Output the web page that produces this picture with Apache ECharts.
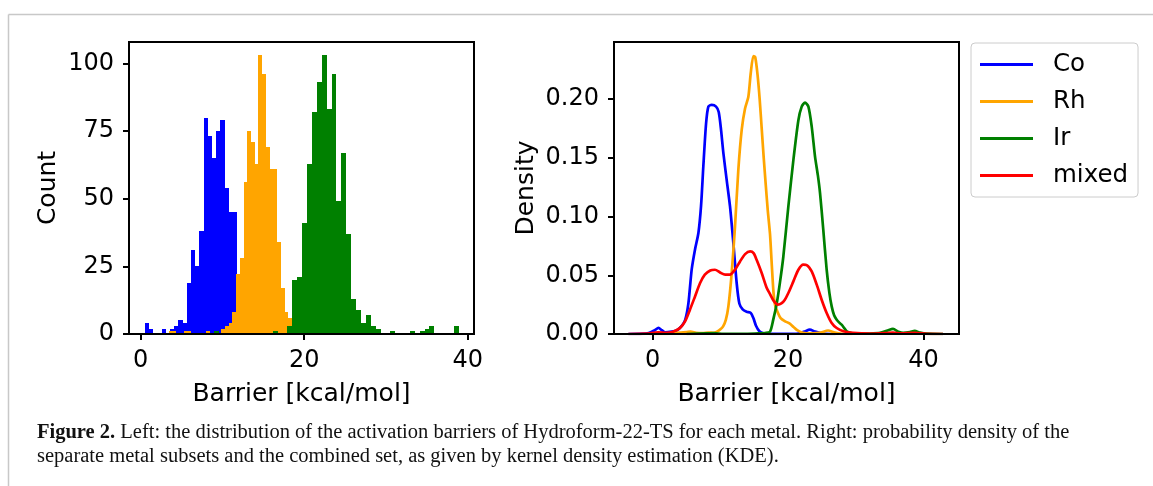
<!DOCTYPE html>
<html>
<head>
<meta charset="utf-8">
<script src="https://cdn.jsdelivr.net/npm/echarts@6/dist/echarts.min.js"></script>
<style>
  html, body { margin: 0; padding: 0; background: #ffffff; }
  #chart { width: 1153px; height: 486px; }
</style>
</head>
<body>
<div id="chart"></div>
<script>
// ---- Histogram data: left edge of first bin, bin width, counts per bin ----
const coStart = 0.526, coWidth = 0.512;
const coCounts = [4, 2, 0, 0, 2, 0, 2, 3, 5, 4, 19, 31, 25, 38, 80, 73, 65, 75, 79, 54, 45, 45,
                  18, 10, 7, 6, 6, 5, 3, 2, 0, 0, 0, 0, 0, 0, 0, 0, 0, 0, 0, 0, 0, 0, 1];
const rhStart = 3.46, rhWidth = 0.456;
const rhCounts = [1, 1, 0, 0, 1, 1, 0, 0, 0, 0, 1, 0, 0, 0, 2, 3, 4, 8, 22, 28, 56, 75, 71, 63,
                  103, 96, 69, 61, 61, 34, 17, 8, 6, 4, 4, 3, 2, 2, 1, 0, 0, 0, 0, 0, 0, 0, 0, 0, 0, 1];
const irStart = 8.97, irWidth = 0.599;
const irCounts = [1, 0, 0, 0, 0, 0, 0, 0, 0, 0, 0, 0, 1, 0, 0, 3, 20, 21, 41, 63, 82, 93, 103, 83,
                  96, 49, 67, 37, 13, 9, 4, 7, 3, 2, 0, 0, 1, 0, 0, 0, 1, 0, 1, 2, 3, 0, 0, 0, 0, 3];

// ---- Kernel density curves (barrier, density) ----
const coKdeX = [-3.6, -2.0, -0.6, 0.3, 0.85, 1.35, 1.85, 2.8, 3.5, 4.3, 4.8, 5.27, 5.76, 6.25, 6.75,
                7.14, 7.48, 7.88, 8.22, 8.71, 9.36, 9.75, 10.09, 10.44, 10.93, 11.42, 11.92, 12.41,
                12.8, 13.29, 13.88, 14.48, 14.87, 15.26, 15.76, 16.35, 17.5, 19.5, 21.5, 22.4, 23.2,
                24.0, 25.0, 27.0];
const coKdeY = [0, 0.0001, 0.0008, 0.0032, 0.0052, 0.0032, 0.0014, 0.002, 0.003, 0.007, 0.012, 0.026,
                0.055, 0.072, 0.086, 0.109, 0.143, 0.179, 0.1936, 0.195, 0.1936, 0.189, 0.174, 0.154,
                0.131, 0.1086, 0.077, 0.043, 0.026, 0.021, 0.019, 0.018, 0.0136, 0.007, 0.0023, 0.0006,
                0.0001, 0.0001, 0.0004, 0.002, 0.0037, 0.002, 0.0004, 0];
const rhKdeX = [-0.5, 1.5, 3.0, 4.0, 5.0, 5.6, 6.4, 7.4, 8.2, 9.0, 9.5, 10.0, 10.4, 10.8, 11.18, 11.67,
                12.16, 12.65, 13.15, 13.64, 14.13, 14.48, 14.87, 15.15, 15.5, 15.8, 16.1, 16.4, 16.7,
                17.0, 17.33, 17.6, 17.85, 18.1, 18.5, 18.9, 19.5, 20.2, 20.8, 21.4, 22.2, 23.5, 24.8,
                25.9, 26.9, 28.0, 29.5];
const rhKdeY = [0, 0.0001, 0.0006, 0.0012, 0.0016, 0.002, 0.001, 0.0007, 0.0012, 0.001, 0.002, 0.004,
                0.0065, 0.012, 0.0235, 0.052, 0.0916, 0.14, 0.174, 0.192, 0.202, 0.222, 0.2367, 0.2355,
                0.22, 0.2, 0.175, 0.15, 0.127, 0.105, 0.085, 0.058, 0.035, 0.024, 0.018, 0.0135, 0.011,
                0.009, 0.006, 0.003, 0.001, 0.0005, 0.0012, 0.003, 0.0012, 0.0002, 0];
const irKdeX = [5.0, 8.0, 9.0, 10.5, 14.0, 16.0, 16.6, 17.33, 17.8, 18.32, 18.8, 19.3, 20.04, 20.78,
                21.52, 22.01, 22.5, 23.0, 23.49, 23.98, 24.4, 24.72, 25.2, 25.7, 26.1, 26.44, 26.8,
                27.18, 27.6, 27.91, 28.3, 28.66, 29.3, 30.1, 32.0, 33.6, 34.7, 35.5, 36.3, 37.0, 38.0,
                38.7, 39.5, 40.5, 42.9];
const irKdeY = [0, 0.0005, 0.0007, 0.0002, 0.0002, 0.0006, 0.0008, 0.002, 0.012, 0.026, 0.044, 0.066,
                0.1086, 0.148, 0.182, 0.1936, 0.197, 0.1936, 0.1766, 0.151, 0.135, 0.12, 0.0887, 0.0547,
                0.035, 0.0235, 0.016, 0.0122, 0.0095, 0.0079, 0.005, 0.0023, 0.0008, 0.0003, 0.0004,
                0.001, 0.003, 0.0043, 0.002, 0.001, 0.0016, 0.0026, 0.0012, 0.0003, 0];
const mixKdeX = [-3.6, -1.0, 0.8, 2.0, 3.0, 4.0, 4.8, 5.5, 6.25, 7.0, 7.7, 8.5, 9.2, 9.95, 10.7, 11.4,
                 12.15, 12.9, 13.65, 14.4, 14.9, 15.35, 16.1, 16.85, 17.33, 17.9, 18.5, 19.0, 19.5,
                 20.04, 20.78, 21.52, 22.25, 22.75, 23.49, 24.23, 24.97, 25.7, 26.44, 27.18, 28.17,
                 29.6, 32.1, 34.5, 35.5, 36.6, 38.7, 40.5, 42.9];
const mixKdeY = [0, 0.0003, 0.0015, 0.001, 0.002, 0.005, 0.011, 0.0207, 0.032, 0.0434, 0.0505, 0.0541,
                 0.0547, 0.0524, 0.0505, 0.0505, 0.0547, 0.0618, 0.068, 0.0703, 0.0689, 0.0632, 0.0519,
                 0.0391, 0.034, 0.028, 0.025, 0.026, 0.029, 0.0349, 0.0448, 0.0547, 0.059, 0.0587,
                 0.0533, 0.042, 0.029, 0.0179, 0.0094, 0.0051, 0.0023, 0.0009, 0.0003, 0.0008, 0.0012,
                 0.0005, 0.0009, 0.0001, 0];

// ---- Tick labels and text ----
const barrierTicks = [0, 20, 40];
const countTicks = [0, 25, 50, 75, 100];
const densityTicks = [0, 0.05, 0.10, 0.15, 0.20];
const metalNames = ['Co', 'Rh', 'Ir', 'mixed'];
const xTitle = 'Barrier [kcal/mol]';
const captionLine1 = 'Left: the distribution of the activation barriers of Hydroform-22-TS for each metal. Right: probability density of the';
const captionLine2 = 'separate metal subsets and the combined set, as given by kernel density estimation (KDE).';

const COLORS = { Co: '#0000ff', Rh: '#ffa500', Ir: '#008000', mixed: '#ff0000' };
const FONT = 'DejaVu Sans';
const TICK_SIZE = 24;
const LABEL_SIZE = 25;
const CAPTION_FONT = 'Liberation Serif';
const CAPTION_SIZE = 20.5;

// Histogram bars: one filled rectangle per bin, edges snapped to whole pixels
function histSeries(name, color, start, width, counts) {
  return {
    name: name, type: 'custom', xAxisIndex: 0, yAxisIndex: 0,
    itemStyle: { color: color },
    encode: { x: [0, 1], y: 2 },
    data: counts.map((c, i) => [start + i * width, start + (i + 1) * width, c]),
    renderItem: function (params, api) {
      const a = api.coord([api.value(0), 0]);
      const b = api.coord([api.value(1), api.value(2)]);
      const x0 = Math.round(a[0]), x1 = Math.round(b[0]);
      const y0 = Math.round(a[1]), y1 = Math.round(b[1]);
      return {
        type: 'rect',
        shape: { x: x0, y: y1, width: x1 - x0, height: y0 - y1 },
        style: { fill: color }
      };
    }
  };
}

function kdeSeries(name, xs, ys) {
  return {
    name: name, type: 'line', xAxisIndex: 1, yAxisIndex: 1,
    data: xs.map((x, i) => [x, ys[i]]),
    showSymbol: false, symbol: 'none', smooth: 0.25,
    color: COLORS[name],
    lineStyle: { color: COLORS[name], width: 2.7 },
    emphasis: { disabled: true }
  };
}

function xAxisCfg(gridIndex, min, max) {
  return {
    type: 'value', gridIndex: gridIndex, min: min, max: max, z: 10,
    name: xTitle, nameLocation: 'middle', nameGap: 48, nameMoveOverlap: false,
    nameTextStyle: { fontFamily: FONT, fontSize: LABEL_SIZE, color: '#000' },
    axisLine: { show: true, onZero: false, lineStyle: { color: '#000', width: 2 } },
    axisTick: { show: true, customValues: barrierTicks, length: 6, lineStyle: { color: '#000', width: 2 } },
    axisLabel: { customValues: barrierTicks, margin: 15, fontFamily: FONT, fontSize: TICK_SIZE, color: '#000' },
    splitLine: { show: false }
  };
}

function yAxisCfg(gridIndex, min, max, ticks, title, gap, fmt) {
  return {
    type: 'value', gridIndex: gridIndex, min: min, max: max, z: 10,
    name: title, nameLocation: 'middle', nameGap: gap, nameMoveOverlap: false,
    nameTextStyle: { fontFamily: FONT, fontSize: LABEL_SIZE, color: '#000' },
    axisLine: { show: true, onZero: false, lineStyle: { color: '#000', width: 2 } },
    axisTick: { show: true, customValues: ticks, length: 6, lineStyle: { color: '#000', width: 2 } },
    axisLabel: { customValues: ticks, margin: 15, fontFamily: FONT, fontSize: TICK_SIZE, color: '#000', formatter: fmt },
    splitLine: { show: false }
  };
}

const chart = echarts.init(document.getElementById('chart'), null, { renderer: 'canvas' });

const option = {
  animation: false,
  backgroundColor: '#ffffff',
  grid: [
    { left: 129, top: 42, width: 345, height: 292, show: true, borderColor: '#000', borderWidth: 2,
      backgroundColor: 'transparent', outerBoundsMode: 'none' },
    { left: 614, top: 42, width: 345, height: 292, show: true, borderColor: '#000', borderWidth: 2,
      backgroundColor: 'transparent', outerBoundsMode: 'none' }
  ],
  xAxis: [
    xAxisCfg(0, -1.43, 40.77),
    xAxisCfg(1, -5.72, 45.25)
  ],
  yAxis: [
    yAxisCfg(0, 0, 107.9, countTicks, 'Count', 68, v => String(v)),
    yAxisCfg(1, 0, 0.2486, densityTicks, 'Density', 75, v => v.toFixed(2))
  ],
  legend: {
    data: metalNames, orient: 'vertical', left: 971, top: 43,
    icon: 'rect', itemWidth: 53, itemHeight: 3, itemGap: 12,
    padding: [9, 10, 9, 9], borderColor: '#cccccc', borderWidth: 1, borderRadius: 4,
    backgroundColor: '#ffffff', selectedMode: false,
    textStyle: { fontFamily: FONT, fontSize: 24.5, color: '#000', lineHeight: 24, padding: [0, 0, 0, 15] }
  },
  graphic: [
    { type: 'line', silent: true, shape: { x1: 8.5, y1: 14.5, x2: 1153, y2: 14.5 },
      style: { stroke: '#c8c8c8', lineWidth: 1.5 } },
    { type: 'line', silent: true, shape: { x1: 8.5, y1: 14.5, x2: 8.5, y2: 486 },
      style: { stroke: '#c8c8c8', lineWidth: 1.5 } },
    { type: 'text', silent: true, x: 37, y: 433,
      style: {
        text: '{b|Figure 2.} ' + captionLine1,
        fontFamily: CAPTION_FONT, fontSize: CAPTION_SIZE, fill: '#111',
        textAlign: 'left', textVerticalAlign: 'middle', verticalAlign: 'middle',
        rich: { b: { fontFamily: CAPTION_FONT, fontSize: CAPTION_SIZE, fontWeight: 'bold', fill: '#111' } }
      } },
    { type: 'text', silent: true, x: 37, y: 457,
      style: {
        text: captionLine2,
        fontFamily: CAPTION_FONT, fontSize: CAPTION_SIZE, fill: '#111',
        textAlign: 'left', textVerticalAlign: 'middle', verticalAlign: 'middle'
      } }
  ],
  series: [
    histSeries('Co counts', COLORS.Co, coStart, coWidth, coCounts),
    histSeries('Rh counts', COLORS.Rh, rhStart, rhWidth, rhCounts),
    histSeries('Ir counts', COLORS.Ir, irStart, irWidth, irCounts),
    kdeSeries('Co', coKdeX, coKdeY),
    kdeSeries('Rh', rhKdeX, rhKdeY),
    kdeSeries('Ir', irKdeX, irKdeY),
    kdeSeries('mixed', mixKdeX, mixKdeY)
  ]
};

chart.setOption(option);
</script>
</body>
</html>
